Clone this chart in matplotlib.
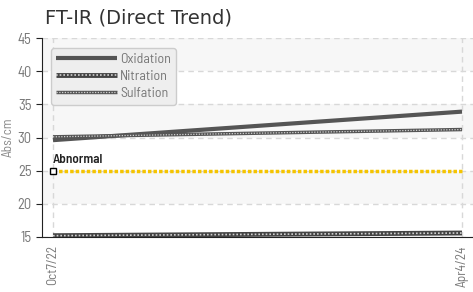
import matplotlib
matplotlib.use("Agg")
import matplotlib.pyplot as plt
from matplotlib.legend_handler import HandlerTuple

# data
dates = ["Oct7/22", "Apr4/24"]
oxidation = [29.6, 33.9]
nitration = [15.2, 15.6]
sulfation = [30.1, 31.2]
abnormal = 25

narrow = ["Barlow Semi Condensed", "DejaVu Sans"]

fig = plt.figure(figsize=(4.73, 2.92), dpi=100)
ax = fig.add_axes([42/473, 55/292, 431/473, 199/292])

x = list(range(len(dates)))
pad = 11/409
ax.set_xlim(-pad, 1 + pad)
ax.set_ylim(15, 45)

# alternating bands
for lo in range(15, 45, 5):
    if (lo // 5) % 2 == 0:
        ax.axhspan(lo, lo + 5, color="#f7f7f7", zorder=0, lw=0)

ax.grid(True, color="#d8d8d8", linestyle=(0, (4, 3)), lw=1)
ax.set_axisbelow(True)

# abnormal limit
ax.plot(x, [abnormal, abnormal], color="#f5c400", lw=2.5, linestyle=(0, (1, 0.6)), zorder=3)
ax.plot([0], [abnormal], marker="s", ms=4.5, mfc="white", mec="black", mew=1, zorder=5, clip_on=False)
ax.text(0, abnormal + 1.2, "Abnormal", fontsize=9.5, family=narrow, fontweight="semibold", color="#222222")

# series
ox, = ax.plot(x, oxidation, color="#555555", lw=3, solid_capstyle="butt", zorder=4)
ni1, = ax.plot(x, nitration, color="#444444", lw=3.5, solid_capstyle="butt", zorder=4)
ni2, = ax.plot(x, nitration, color="#d0d0d0", lw=1.2, linestyle=(0, (1, 1.2)), zorder=4)
su1, = ax.plot(x, sulfation, color="#555555", lw=2.5, solid_capstyle="butt", zorder=4)
su2, = ax.plot(x, sulfation, color="#d0d0d0", lw=0.9, linestyle=(0, (1, 1.2)), zorder=4)

ax.set_xticks(x)
ax.set_xticklabels(dates, rotation=90, family=narrow, fontsize=9.5, color="#777777")
ax.set_yticks(range(15, 50, 5))
ax.set_yticklabels([str(v) for v in range(15, 50, 5)], family=narrow, fontsize=10.5, color="#777777")
ax.tick_params(axis="both", length=4, color="#222222")
ax.tick_params(axis="x", length=0, pad=6)
ax.set_ylabel("Abs/cm", family=narrow, fontsize=9.5, color="#888888", labelpad=2)

for s in ["top", "right"]:
    ax.spines[s].set_visible(False)
ax.spines["left"].set_color("#222222")
ax.spines["bottom"].set_color("#222222")

leg = ax.legend([ox, (ni1, ni2), (su1, su2)], ["Oxidation", "Nitration", "Sulfation"],
                handler_map={tuple: HandlerTuple(ndivide=1, pad=0)},
                loc="upper left", bbox_to_anchor=(0.015, 0.965), prop={"family": narrow, "size": 10},
                fancybox=True, framealpha=1, facecolor="#eeeeee", edgecolor="#cccccc",
                handlelength=4.4, handletextpad=0.2, labelspacing=0.3, borderpad=0.35,
                borderaxespad=0.2)
for t in leg.get_texts():
    t.set_color("#777777")

fig.text(45/473, 1 - 18/292, "FT-IR (Direct Trend)", fontsize=14, color="#333333", va="center")

plt.savefig("out.png", dpi=100)
